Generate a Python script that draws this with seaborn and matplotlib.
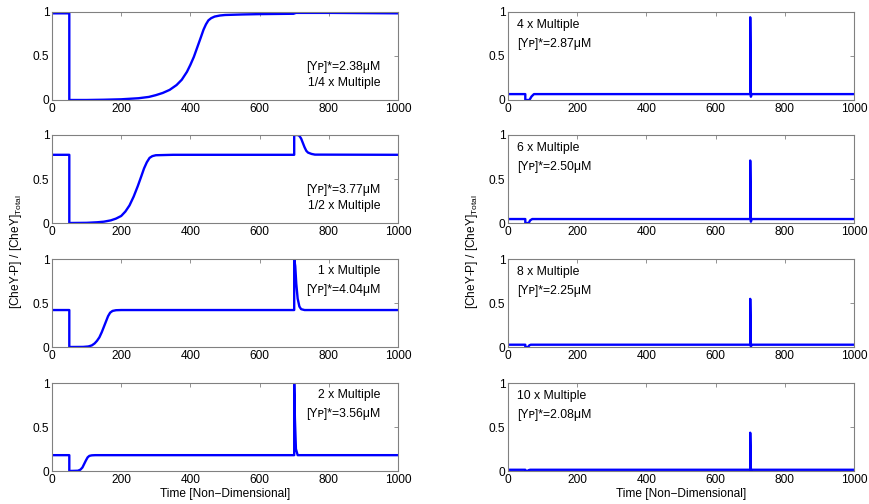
import numpy as np
import pandas as pd
import matplotlib
matplotlib.use("Agg")
import matplotlib.pyplot as plt
import seaborn as sns

# Data (time, fraction CheY-P)
t_quarter = [0, 50, 50, 100, 150, 200, 250, 280, 300, 320, 340, 360, 375, 390, 400, 410, 420, 430, 438, 445, 452, 460, 470, 485, 500, 550, 600, 698, 705, 800, 1000]
y_quarter = [0.985, 0.985, 0.0, 0.0, 0.003, 0.008, 0.02, 0.035, 0.055, 0.08, 0.115, 0.17, 0.23, 0.32, 0.40, 0.49, 0.60, 0.71, 0.80, 0.86, 0.905, 0.93, 0.948, 0.96, 0.966, 0.972, 0.976, 0.98, 0.99, 0.99, 0.985]

t_half = [0, 50, 50, 100, 130, 150, 170, 185, 200, 212, 224, 236, 248, 258, 266, 274, 282, 290, 300, 350, 700, 700, 710, 715, 720, 725, 730, 735, 740, 750, 760, 1000]
y_half = [0.775, 0.775, 0.0, 0.002, 0.008, 0.015, 0.03, 0.05, 0.08, 0.13, 0.20, 0.30, 0.42, 0.53, 0.62, 0.69, 0.74, 0.76, 0.77, 0.775, 0.775, 1.0, 1.0, 0.99, 0.96, 0.91, 0.86, 0.82, 0.80, 0.785, 0.777, 0.775]

t_one = [0, 50, 50, 90, 105, 115, 123, 130, 137, 144, 150, 156, 162, 168, 175, 185, 200, 700, 700, 703, 706, 710, 715, 720, 730, 1000]
y_one = [0.42, 0.42, 0.0, 0.001, 0.006, 0.018, 0.04, 0.07, 0.11, 0.17, 0.23, 0.29, 0.35, 0.39, 0.41, 0.418, 0.42, 0.42, 1.0, 0.92, 0.72, 0.55, 0.46, 0.43, 0.42, 0.42]

t_two = [0, 50, 50, 75, 82, 88, 93, 98, 103, 108, 115, 125, 700, 700, 702, 705, 710, 1000]
y_two = [0.18, 0.18, 0.0, 0.003, 0.015, 0.04, 0.08, 0.12, 0.155, 0.172, 0.178, 0.18, 0.18, 1.0, 0.6, 0.25, 0.18, 0.18]

t_four = [0, 50, 50, 62, 68, 75, 700, 700, 702, 704, 1000]
y_four = [0.067, 0.067, 0.0, 0.0, 0.04, 0.067, 0.067, 0.94, 0.037, 0.067, 0.067]

t_six = [0, 50, 50, 60, 64, 70, 700, 700, 702, 704, 1000]
y_six = [0.045, 0.045, 0.0, 0.0, 0.03, 0.045, 0.045, 0.71, 0.015, 0.045, 0.045]

t_eight = [0, 50, 50, 58, 62, 66, 700, 700, 702, 704, 1000]
y_eight = [0.026, 0.026, 0.0, 0.0, 0.02, 0.026, 0.026, 0.547, 0.005, 0.026, 0.026]

t_ten = [0, 50, 50, 56, 60, 64, 700, 700, 702, 704, 1000]
y_ten = [0.014, 0.014, 0.0, 0.0, 0.01, 0.014, 0.014, 0.435, 0.002, 0.014, 0.014]

multiples = ["1/4 x Multiple", "1/2 x Multiple", "1 x Multiple", "2 x Multiple",
             "4 x Multiple", "6 x Multiple", "8 x Multiple", "10 x Multiple"]
yp_values = ["2.38", "3.77", "4.04", "3.56", "2.87", "2.50", "2.25", "2.08"]

series = [(t_quarter, y_quarter), (t_half, y_half), (t_one, y_one), (t_two, y_two),
          (t_four, y_four), (t_six, y_six), (t_eight, y_eight), (t_ten, y_ten)]

sns.set_style("white")
plt.rcParams['font.family'] = ['Liberation Sans', 'DejaVu Sans']
plt.rcParams['mathtext.fontset'] = 'custom'
plt.rcParams['mathtext.rm'] = 'Liberation Sans'
plt.rcParams['text.color'] = 'black'

W, H = 869, 504
fig = plt.figure(figsize=(W / 100, H / 100), dpi=100)

col_left = [52, 508]
row_top = [12, 135, 259, 383]
ax_w, ax_h = 346, 88

fs = 8.6
fa = 8.8
for i, (t, y) in enumerate(series):
    col, row = divmod(i, 4)
    x0, y0 = col_left[col], row_top[row]
    ax = fig.add_axes([x0 / W, 1 - (y0 + ax_h) / H, ax_w / W, ax_h / H])
    df = pd.DataFrame({"t": t, "y": y})
    sns.lineplot(data=df, x="t", y="y", ax=ax, color="#0000ff", lw=1.7,
                 estimator=None, sort=False)
    ax.set_xlim(0, 1000)
    ax.set_ylim(0, 1)
    ax.set_xticks([0, 200, 400, 600, 800, 1000])
    ax.set_yticks([0, 0.5, 1])
    ax.set_yticklabels(["0", "0.5", "1"])
    ax.set_xlabel("")
    ax.set_ylabel("")
    ax.tick_params(direction="in", length=3, width=0.6, color="#808080",
                   labelsize=fs, labelcolor="black", pad=2,
                   top=True, right=True)
    for s in ax.spines.values():
        s.set_color("#808080")
        s.set_linewidth(0.8)

    yp = "[Y\u1d18]*=" + yp_values[i] + "\u03bcM"
    if col == 0:
        if row < 2:
            ax.text(0.95, 0.38, yp, transform=ax.transAxes, ha="right", va="center", fontsize=fa)
            ax.text(0.95, 0.19, multiples[i], transform=ax.transAxes, ha="right", va="center", fontsize=fa)
        else:
            ax.text(0.95, 0.86, multiples[i], transform=ax.transAxes, ha="right", va="center", fontsize=fa)
            ax.text(0.95, 0.65, yp, transform=ax.transAxes, ha="right", va="center", fontsize=fa)
    else:
        ax.text(0.027, 0.85, multiples[i], transform=ax.transAxes, ha="left", va="center", fontsize=fa)
        ax.text(0.027, 0.64, yp, transform=ax.transAxes, ha="left", va="center", fontsize=fa)

ylab = r"[CheY-P] / [CheY]$_{\rm Total}$"
fig.text(16 / W, 1 - 252 / H, ylab, rotation=90, ha="center", va="center", fontsize=fs)
fig.text(472 / W, 1 - 252 / H, ylab, rotation=90, ha="center", va="center", fontsize=fs)
fig.text(225 / W, 1 - 494 / H, "Time [Non\u2212Dimensional]", ha="center", va="center", fontsize=fs)
fig.text(681 / W, 1 - 494 / H, "Time [Non\u2212Dimensional]", ha="center", va="center", fontsize=fs)

fig.savefig("out.png", dpi=100)
